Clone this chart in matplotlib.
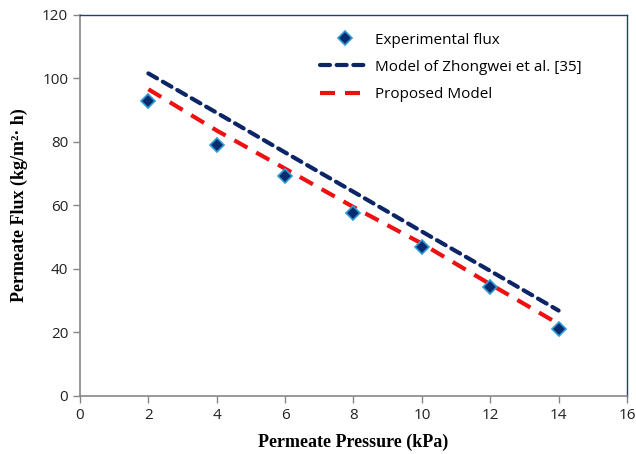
import matplotlib
matplotlib.use("Agg")
import matplotlib.pyplot as plt

# permeate pressure (kPa)
pressure = [2, 4, 6, 8, 10, 12, 14]
# measured flux (kg/m2.h)
flux_exp = [92.9, 79.1, 69.3, 57.5, 47.0, 34.3, 21.2]
# model predictions
flux_zhongwei = [101.6, 89.2, 76.7, 64.3, 51.8, 39.4, 26.9]
flux_proposed = [96.6, 83.6, 71.6, 59.5, 48.0, 35.2, 22.7]

xticks = list(range(0, 17, 2))
yticks = list(range(0, 121, 20))

navy = "#0B2566"
red = "#EE1111"

fig = plt.figure(figsize=(6.36, 4.54), dpi=100)
ax = fig.add_axes([0.1258, 0.1278, 0.86, 0.8392])

ax.plot(pressure, flux_zhongwei, color=navy, lw=3, dashes=(2.4, 1.6),
        dash_capstyle="round", label="Model of Zhongwei et al. [35]", zorder=2)
ax.plot(pressure, flux_proposed, color=red, lw=3, dashes=(3.6, 2.4),
        dash_capstyle="butt", label="Proposed Model", zorder=2)
ax.plot(pressure, flux_exp, linestyle="none", marker="D", markersize=7.5,
        markerfacecolor="#0A2C6E", markeredgecolor="#2E9BD6", markeredgewidth=1.2,
        label="Experimental flux", zorder=3)

ax.set_xlim(0, 16)
ax.set_ylim(0, 120)
ax.set_xticks(xticks)
ax.set_yticks(yticks)

tick_font = {"family": "Open Sans", "size": 11}
ax.set_xticklabels([str(t) for t in xticks], fontdict=tick_font)
ax.set_yticklabels([str(t) for t in yticks], fontdict=tick_font)
ax.tick_params(axis="both", direction="out", length=5, width=1, color="#868686",
               labelcolor="#222222")
ax.tick_params(axis="x", pad=4)

for side in ("left", "bottom"):
    ax.spines[side].set_color("#868686")
    ax.spines[side].set_linewidth(1.2)
for side in ("top", "right"):
    ax.spines[side].set_color("#1F3D7A")
    ax.spines[side].set_linewidth(1.0)

label_font = {"family": "Liberation Serif", "weight": "bold", "size": 13}
ax.set_xlabel("Permeate Pressure (kPa)", fontdict=label_font, labelpad=7)
ax.set_ylabel("Permeate Flux (kg/m\u00b2\u00b7 h)", fontdict=label_font, labelpad=10)

handles, labels = ax.get_legend_handles_labels()
order = [2, 0, 1]
ax.legend([handles[i] for i in order], [labels[i] for i in order],
          loc="upper left", bbox_to_anchor=(0.413, 0.99), frameon=False,
          prop={"family": "Open Sans", "size": 11}, handlelength=3.3,
          handletextpad=0.35, labelspacing=0.8)

fig.savefig("out.png", dpi=100)
